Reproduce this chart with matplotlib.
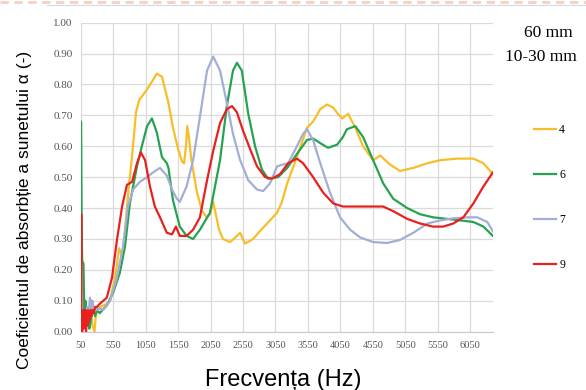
import numpy as np
import matplotlib.pyplot as plt
from matplotlib.lines import Line2D

# sample 4 (yellow)
f4 = [50, 150, 200, 230, 260, 280, 300, 350, 400, 450, 500, 580, 640, 690, 730, 790, 840, 900, 950,
      1040, 1120, 1220, 1300, 1400, 1470, 1550, 1610, 1640, 1670, 1690, 1715, 1750, 1840, 1920, 1990,
      2040, 2090, 2130, 2180, 2240, 2350, 2455, 2505, 2580, 2705, 2830, 2920, 3075, 3150, 3230, 3380,
      3470, 3535, 3630, 3740, 3845, 3940, 4030, 4080, 4170, 4230, 4280, 4400, 4555, 4665, 4820, 4970,
      5175, 5390, 5590, 5850, 6100, 6255, 6400]
a4 = [0.0, 0.05, 0.08, 0.02, 0.0, 0.05, 0.07, 0.08, 0.085, 0.09, 0.10, 0.18, 0.27, 0.24, 0.33, 0.47, 0.57, 0.71, 0.75,
      0.775, 0.80, 0.835, 0.825, 0.74, 0.66, 0.59, 0.55, 0.545, 0.60, 0.665, 0.63, 0.56, 0.45, 0.39, 0.37,
      0.38, 0.42, 0.38, 0.33, 0.30, 0.29, 0.31, 0.32, 0.285, 0.30, 0.33, 0.35, 0.385, 0.42, 0.48, 0.565,
      0.62, 0.66, 0.68, 0.72, 0.735, 0.725, 0.70, 0.69, 0.705, 0.68, 0.66, 0.60, 0.555, 0.57, 0.54, 0.52,
      0.53, 0.545, 0.555, 0.56, 0.56, 0.545, 0.51]

# sample 6 (green)
f6 = [50, 52, 60, 70, 90, 105, 120, 140, 160, 180, 200, 220, 240, 270, 300, 340, 450, 545, 650, 730,
      805, 915, 990, 1070, 1145, 1220, 1300, 1375, 1400, 1470, 1575, 1680, 1780, 1885, 2040, 2195,
      2300, 2395, 2455, 2530, 2630, 2735, 2840, 2935, 3090, 3230, 3380, 3535, 3630, 3740, 3860, 4000,
      4090, 4150, 4280, 4400, 4555, 4710, 4865, 5080, 5280, 5480, 5695, 5900, 6100, 6255, 6400]
a6 = [0.0, 0.68, 0.40, 0.23, 0.22, 0.04, 0.10, 0.03, 0.08, 0.01, 0.03, 0.10, 0.07, 0.05, 0.07, 0.06, 0.085, 0.125, 0.19, 0.275,
      0.415, 0.535, 0.60, 0.665, 0.69, 0.645, 0.565, 0.545, 0.53, 0.425, 0.34, 0.31, 0.30, 0.33, 0.385, 0.555,
      0.73, 0.845, 0.87, 0.845, 0.705, 0.60, 0.525, 0.495, 0.50, 0.53, 0.575, 0.62, 0.625, 0.61, 0.595, 0.605,
      0.63, 0.655, 0.665, 0.63, 0.555, 0.48, 0.43, 0.40, 0.38, 0.37, 0.365, 0.36, 0.355, 0.34, 0.31]

# sample 7 (lavender)
f7 = [130, 150, 170, 190, 210, 230, 250, 280, 300, 350, 390, 500, 605, 700, 775, 855, 960, 1070, 1160,
      1270, 1375, 1455, 1530, 1575, 1680, 1780, 1885, 1995, 2090, 2195, 2300, 2395, 2505, 2630, 2765,
      2860, 2965, 3075, 3150, 3245, 3380, 3475, 3535, 3630, 3740, 3890, 4045, 4200, 4355, 4555, 4770,
      4970, 5175, 5390, 5590, 5790, 6005, 6160, 6315, 6400]
a7 = [0.02, 0.08, 0.05, 0.11, 0.06, 0.10, 0.07, 0.08, 0.07, 0.075, 0.07, 0.10, 0.175, 0.275, 0.405, 0.46, 0.485, 0.50, 0.515,
      0.53, 0.505, 0.46, 0.43, 0.42, 0.47, 0.555, 0.695, 0.845, 0.89, 0.845, 0.74, 0.64, 0.555, 0.49, 0.46,
      0.455, 0.48, 0.535, 0.54, 0.545, 0.60, 0.64, 0.655, 0.62, 0.545, 0.45, 0.37, 0.33, 0.305, 0.29, 0.287,
      0.297, 0.32, 0.35, 0.36, 0.367, 0.37, 0.37, 0.355, 0.325]

# sample 9 (red)
f9 = [50, 55, 60, 65, 70, 80, 90, 100, 110, 120, 130, 140, 150, 160, 170, 180, 190, 200, 215, 230, 250,
      270, 300, 340, 450, 530, 605, 685, 760, 840, 915, 975, 1040, 1115, 1190, 1270, 1375, 1455, 1515,
      1575, 1680, 1780, 1885, 1995, 2090, 2195, 2300, 2380, 2455, 2550, 2660, 2765, 2890, 2995, 3120,
      3245, 3380, 3475, 3630, 3785, 3940, 4090, 4355, 4710, 4865, 5080, 5280, 5480, 5635, 5790, 5945,
      6100, 6255, 6400]
a9 = [0.0, 0.38, 0.02, 0.07, 0.0, 0.06, 0.01, 0.07, 0.03, 0.07, 0.0, 0.06, 0.02, 0.07, 0.03, 0.06, 0.04, 0.07, 0.05, 0.07, 0.06,
      0.08, 0.08, 0.09, 0.11, 0.175, 0.295, 0.405, 0.475, 0.485, 0.545, 0.58, 0.555, 0.47, 0.405, 0.37, 0.32, 0.315, 0.34,
      0.31, 0.31, 0.33, 0.37, 0.49, 0.585, 0.675, 0.72, 0.73, 0.71, 0.65, 0.59, 0.535, 0.50, 0.495, 0.51,
      0.545, 0.56, 0.545, 0.50, 0.45, 0.415, 0.405, 0.405, 0.405, 0.39, 0.365, 0.35, 0.34, 0.34, 0.35, 0.37,
      0.415, 0.47, 0.515]

series = [('4', f4, a4, '#F7BE2A'),
          ('6', f6, a6, '#26A350'),
          ('7', f7, a7, '#A3AED6'),
          ('9', f9, a9, '#E8211E')]

xticks = np.arange(50, 6051, 500)
yticks = np.arange(0, 1.001, 0.1)

fig = plt.figure(figsize=(5.86, 3.9), dpi=100)
ax = fig.add_axes([0.138, 0.1495, 0.703, 0.7925])

for name, f, a, c in series:
    ax.plot(f, a, color=c, lw=1.6, label=name, solid_joinstyle='round')

ax.set_xlim(50, 6400)
ax.set_ylim(0, 1.0)
ax.set_xticks(xticks)
ax.set_yticks(yticks)
ax.set_yticklabels(['%.2f' % v for v in yticks])
ax.tick_params(length=0, labelcolor='#555555')
ax.tick_params(axis='x', labelsize=7.5, pad=7)
ax.tick_params(axis='y', labelsize=8, pad=6)
for lab in ax.get_xticklabels() + ax.get_yticklabels():
    lab.set_family('Liberation Serif')
ax.grid(True, color='#DADADA', lw=0.9)
ax.set_axisbelow(True)
for s in ['top', 'right', 'left']:
    ax.spines[s].set_visible(False)
ax.spines['bottom'].set_color('#C8C8C8')

fig.text(0.041, 0.462, 'Coeficientul de absorbție a sunetului α (-)', rotation=90,
         ha='center', va='center', family='Liberation Sans', fontsize=12.5)
fig.text(0.483, 0.026, 'Frecvența (Hz)', ha='center', va='center',
         family='Liberation Sans', fontsize=17)

fig.text(0.935, 0.915, '60 mm', ha='center', va='center', family='Liberation Serif', fontsize=12.5)
fig.text(0.923, 0.854, '10-30 mm', ha='center', va='center', family='Liberation Serif', fontsize=12.5)

ax.legend(loc='upper left', bbox_to_anchor=(0.893, 0.71), bbox_transform=fig.transFigure,
          frameon=False, handlelength=1.9, handletextpad=0.25, labelspacing=2.8,
          prop={'family': 'Liberation Serif', 'size': 8.5})

# faint page border at the top
fig.add_artist(Line2D([0, 1], [0.995, 0.995], color='#F3D2C2', lw=2, ls=(0, (3, 2))))
fig.add_artist(Line2D([0.08, 1], [0.987, 0.987], color='#D8D8D8', lw=0.8))

fig.savefig('out.png', dpi=100)
